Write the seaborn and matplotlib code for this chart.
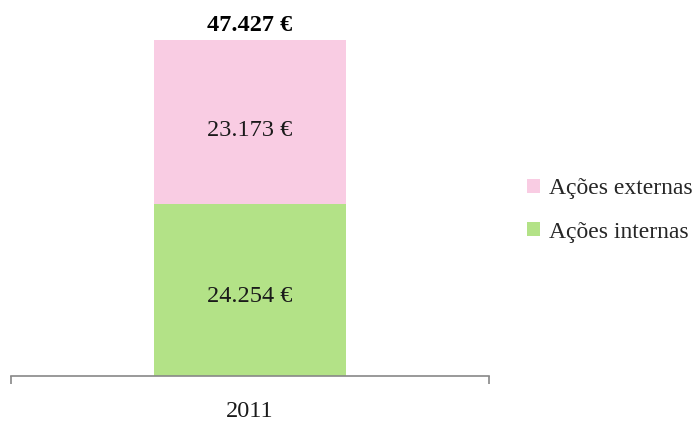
import pandas as pd
import matplotlib.pyplot as plt
import seaborn as sns
from matplotlib.patches import Patch

anos = ['2011']
acoes_internas = [24254]
acoes_externas = [23173]
series = ['Ações externas', 'Ações internas']
cores = {'Ações externas': '#F9CCE3', 'Ações internas': '#B3E287'}


def fmt_euro(v):
    return f'{v:,.0f} €'.replace(',', '.')


dados = pd.DataFrame({'Ano': anos, 'Internas': acoes_internas, 'Externas': acoes_externas})
dados['Total'] = dados['Internas'] + dados['Externas']

sns.set_style('white')
plt.rcParams['font.family'] = ['Liberation Serif', 'DejaVu Serif']

fig = plt.figure(figsize=(6.97, 4.21), dpi=100)
ax = fig.add_axes([0.0158, 0.1069, 0.6858, 0.8416])

# barra total (rosa) e por cima a parte interna (verde) -> empilhado
sns.barplot(data=dados, x='Ano', y='Total', color=cores['Ações externas'],
            width=0.4, saturation=1, linewidth=0, edgecolor='none', ax=ax)
sns.barplot(data=dados, x='Ano', y='Internas', color=cores['Ações internas'],
            width=0.4, saturation=1, linewidth=0, edgecolor='none', ax=ax)

ax.set_xlim(-0.5, 0.5)
ax.set_ylim(0, 50000)

# rótulos um pouco abaixo do centro, como no original
for i, row in dados.iterrows():
    ax.annotate(fmt_euro(row['Internas']), (i, row['Internas'] / 2),
                xytext=(0, -3), textcoords='offset points',
                ha='center', va='center_baseline', fontsize=17.5, color='#1a1a1a')
    ax.annotate(fmt_euro(row['Externas']), (i, row['Internas'] + row['Externas'] / 2),
                xytext=(0, -4), textcoords='offset points',
                ha='center', va='center_baseline', fontsize=17.5, color='#1a1a1a')
    ax.text(i, row['Total'] + 600, fmt_euro(row['Total']),
            ha='center', va='bottom', fontsize=17.5, fontweight='bold', color='black')

sns.despine(ax=ax, left=True)
ax.spines['bottom'].set_color('#888888')
ax.spines['bottom'].set_linewidth(1.2)
ax.set_yticks([])
ax.set_xlabel('')
ax.set_ylabel('')
ax.tick_params(axis='x', which='major', length=0, pad=18, labelsize=17.5, labelcolor='#1a1a1a')
ax.set_xticks([-0.5, 0.5], minor=True)
ax.tick_params(axis='x', which='minor', bottom=True, length=6, width=1.2,
               color='#888888', direction='out')

handles = [Patch(facecolor=cores[s], edgecolor='none') for s in series]
fig.legend(handles, series, loc='center left', bbox_to_anchor=(0.743, 0.5),
           frameon=False, fontsize=17, handlelength=0.55, handleheight=0.55,
           handletextpad=0.35, labelspacing=0.95, borderaxespad=0)

fig.savefig('out.png', dpi=100)
